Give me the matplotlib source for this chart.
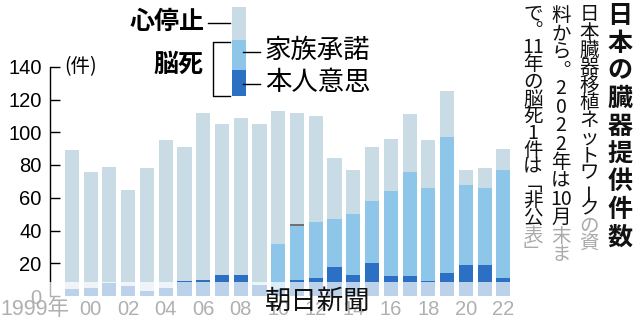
import matplotlib
matplotlib.use("Agg")
import numpy as np
import matplotlib.pyplot as plt
from matplotlib.patches import Rectangle
from matplotlib.lines import Line2D

# ── Data ─────────────────────────────────────────────────────────────────────
years = np.arange(1999, 2023)
total = [89, 76, 79, 65, 78, 95, 91, 112, 105, 109, 105, 113,
         112, 110, 84, 77, 91, 96, 111, 95, 125, 77, 78, 90]
brain = [4, 5, 8, 6, 3, 5, 9, 10, 13, 13, 7, 32,
         44, 45, 47, 50, 58, 64, 76, 66, 97, 68, 66, 77]
honnin = [4, 5, 8, 6, 3, 5, 9, 10, 13, 13, 7, 4,
          10, 11, 18, 13, 20, 12, 12, 9, 14, 19, 19, 11]
hikoukai = [0] * 12 + [1] + [0] * 11      # 2011: 1 case undisclosed
tick_years = list(range(2000, 2023, 2))
tick_labels = [f"{y % 100:02d}" for y in tick_years]

total = np.array(total)
brain = np.array(brain)
honnin = np.array(honnin)
hikoukai = np.array(hikoukai)
kazoku = brain - honnin - hikoukai
shinteishi = total - brain

C_SHIN = "#c9dce6"
C_KAZOKU = "#8ec6ea"
C_HONNIN = "#2b70c2"
C_HIKO = "#707070"

JP = "Noto Sans CJK JP"
NUM = ["Liberation Sans", JP]

W, H = 640, 326


def fx(x):
    return x / W


def fy(y):
    return 1 - y / H


fig = plt.figure(figsize=(6.4, 3.26), dpi=100)
ax = fig.add_axes([fx(50), fy(296), (512.7 - 50) / W, (296 - 66.75) / H])

# ── Stacked bars ─────────────────────────────────────────────────────────────
bw = 0.75
ax.bar(years, honnin, bw, color=C_HONNIN, linewidth=0)
ax.bar(years, kazoku, bw, bottom=honnin, color=C_KAZOKU, linewidth=0)
ax.bar(years, hikoukai, bw, bottom=honnin + kazoku, color=C_HIKO, linewidth=0)
ax.bar(years, shinteishi, bw, bottom=brain, color=C_SHIN, linewidth=0)

ax.set_xlim(1997.83, 2022.5)
ax.set_ylim(0, 140)
for s in ["top", "right", "bottom"]:
    ax.spines[s].set_visible(False)
ax.spines["left"].set_linewidth(1.0)
ax.set_yticks(range(0, 141, 20))
ax.tick_params(axis="y", direction="in", length=7, width=1, pad=6,
               labelsize=14.5)
for t in ax.get_yticklabels():
    t.set_family(NUM)
ax.set_xticks(tick_years)
ax.set_xticklabels(tick_labels, family=NUM, fontsize=14.5)
ax.tick_params(axis="x", length=0, pad=3)
ax.text(1998.85, -0.015, "1999年", transform=ax.get_xaxis_transform(),
        ha="right", va="top", fontsize=15.5, family=NUM)
ax.text(1998.6, 140, "(件)", ha="left", va="center", fontsize=14, family=JP)

# ── fade band at bottom ──────────────────────────────────────────────────────
fig.add_artist(Rectangle((0, 0), 1, (H - 282) / H, transform=fig.transFigure,
                         color="white", alpha=0.69, linewidth=0, zorder=2))
fig.text(fx(318), fy(301), "朝日新聞", ha="center", va="center", fontsize=19,
         family=JP, color="#111111", zorder=5)

# ── Legend ───────────────────────────────────────────────────────────────────
for y0, y1, c in [(7, 40, C_SHIN), (40, 70, C_KAZOKU), (70, 96, C_HONNIN)]:
    fig.add_artist(Rectangle((fx(232), fy(y1)), 14 / W, (y1 - y0) / H,
                             transform=fig.transFigure, color=c, linewidth=0,
                             zorder=4))


def fline(xs, ys):
    fig.add_artist(Line2D([fx(x) for x in xs], [fy(y) for y in ys],
                          transform=fig.transFigure, color="black", lw=1,
                          zorder=4))


fline([208, 230], [23, 23])
fline([230, 213, 213, 230], [42, 42, 96, 96])
fline([243, 260], [52, 52])
fline([243, 260], [84, 84])
fig.text(fx(205), fy(22), "心停止", ha="right", va="center", fontsize=18,
         family=JP, weight="bold")
fig.text(fx(203), fy(65), "脳死", ha="right", va="center", fontsize=18,
         family=JP, weight="bold")
fig.text(fx(265), fy(50), "家族承諾", ha="left", va="center", fontsize=19,
         family=JP)
fig.text(fx(265), fy(83), "本人意思", ha="left", va="center", fontsize=19,
         family=JP)


# ── Vertical title and note ──────────────────────────────────────────────────
def vcol(xc, ytop, cells, pitch, size, weight="normal", gray_n=0):
    y = ytop + pitch / 2
    n = len(cells)
    for i, c in enumerate(cells):
        col = "#aaaaaa" if i >= n - gray_n else "#111111"
        rot = 90 if c == "ー" else 0
        fig.text(fx(xc), fy(y), c, ha="center", va="center", fontsize=size,
                 family=JP, weight=weight, color=col, rotation=rot, zorder=5)
        y += pitch


vcol(620, 2, list("日本の臓器提供件数"), 27.75, 18, weight="bold")
vcol(589, 6, list("日本臓器移植ネットワークの資"), 17.6, 14, gray_n=2)
vcol(561, 6, ["料", "か", "ら", "︒", "2", "0", "2", "2", "年", "は", "10",
              "月", "末", "ま"], 18.4, 14, gray_n=2)
vcol(533, 5, ["で", "︒", "11", "年", "の", "脳", "死", "1", "件", "は",
              "﹁", "非", "公", "表", "﹂"], 17.1, 14, gray_n=2)

fig.savefig("out.png", dpi=100)
